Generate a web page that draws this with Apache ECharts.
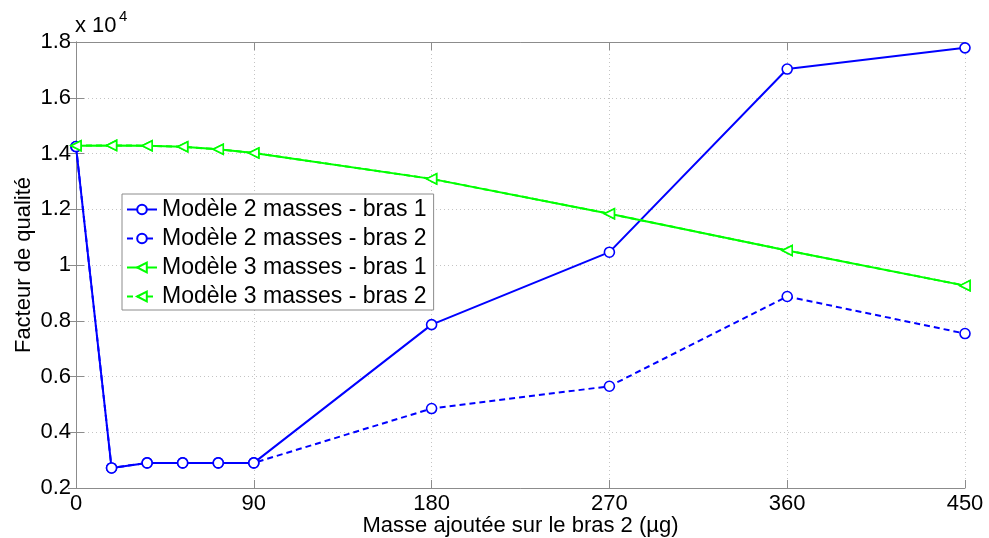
<!DOCTYPE html>
<html>
<head>
<meta charset="utf-8">
<script src="https://cdn.jsdelivr.net/npm/echarts@6/dist/echarts.min.js"></script>
<style>
html,body{margin:0;padding:0;background:#fff;}
#chart{width:989px;height:538px;}
</style>
</head>
<body>
<div id="chart"></div>
<script>
// Added mass on arm 2 (µg)
var xValues = [0, 18, 36, 54, 72, 90, 180, 270, 360, 450];
// Quality factor, in units of 10^4
var m2Bras1 = [1.425, 0.272, 0.290, 0.290, 0.290, 0.290, 0.786, 1.046, 1.703, 1.779];
var m2Bras2 = [1.425, 0.272, 0.290, 0.290, 0.290, 0.290, 0.485, 0.565, 0.887, 0.754];
var m3Bras1 = [1.428, 1.429, 1.428, 1.424, 1.415, 1.402, 1.309, 1.184, 1.052, 0.926];
var m3Bras2 = [1.428, 1.429, 1.428, 1.424, 1.415, 1.402, 1.309, 1.184, 1.052, 0.926];
var seriesNames = ['Modèle 2 masses - bras 1', 'Modèle 2 masses - bras 2', 'Modèle 3 masses - bras 1', 'Modèle 3 masses - bras 2'];
var xTicks = [0, 90, 180, 270, 360, 450];
var yTicks = [0.2, 0.4, 0.6, 0.8, 1.0, 1.2, 1.4, 1.6, 1.8];

function pairs(ys){ return xValues.map(function(x,i){ return [x, ys[i]]; }); }

var FONT = 'Liberation Sans, Arial, Helvetica, sans-serif';
var BLUE = '#0000ff', GREEN = '#00ff00', FRAME = '#8c8c8c';
var TRI_LEFT = 'path://M0,5 L10,0 L10,10 Z';

function mkSeries(name, ys, color, dashed, symbol) {
  return {
    name: name, type: 'line', data: pairs(ys),
    symbol: symbol, symbolSize: 10, showSymbol: true,
    itemStyle: { color: '#ffffff', borderColor: color, borderWidth: 1.6 },
    lineStyle: { color: color, width: 2, type: dashed ? [6, 4] : 'solid' },
    emphasis: { disabled: true },
    animation: false, z: 3
  };
}

var chart = echarts.init(document.getElementById('chart'), null, { renderer: 'canvas' });
var option = {
  animation: false,
  backgroundColor: '#ffffff',
  textStyle: { fontFamily: FONT },
  grid: { left: 76, right: 24, top: 42, bottom: 50, containLabel: false, outerBoundsMode: 'none' },
  xAxis: [{
    type: 'value', min: xTicks[0], max: xTicks[xTicks.length - 1], interval: 90,
    position: 'bottom',
    name: 'Masse ajoutée sur le bras 2 (µg)', nameLocation: 'middle', nameGap: 27,
    nameMoveOverlap: false,
    nameTextStyle: { fontFamily: FONT, fontSize: 22, color: '#000' },
    axisLine: { show: true, lineStyle: { color: FRAME, width: 1 } },
    axisTick: { show: true, inside: true, length: 8, lineStyle: { color: FRAME } },
    axisLabel: { fontFamily: FONT, fontSize: 22, color: '#000', margin: 5 },
    splitLine: { show: true, lineStyle: { color: '#c4c4c4', type: [1, 3], width: 1 } }
  }, {
    type: 'value', min: xTicks[0], max: xTicks[xTicks.length - 1], interval: 90,
    position: 'top',
    axisLine: { show: true, lineStyle: { color: FRAME, width: 1 } },
    axisTick: { show: true, inside: true, length: 8, lineStyle: { color: FRAME } },
    axisLabel: { show: false }, splitLine: { show: false }
  }],
  yAxis: [{
    type: 'value', min: yTicks[0], max: yTicks[yTicks.length - 1], interval: 0.2,
    position: 'left',
    name: 'Facteur de qualité', nameLocation: 'middle', nameGap: 41, nameRotate: 90,
    nameMoveOverlap: false,
    nameTextStyle: { fontFamily: FONT, fontSize: 22, color: '#000' },
    axisLine: { show: true, lineStyle: { color: FRAME, width: 1 } },
    axisTick: { show: true, inside: true, length: 8, lineStyle: { color: FRAME } },
    axisLabel: { fontFamily: FONT, fontSize: 22, color: '#000', margin: 5,
      formatter: function (v) { return String(Math.round(v * 10) / 10); } },
    splitLine: { show: true, lineStyle: { color: '#c4c4c4', type: [1, 3], width: 1 } }
  }, {
    type: 'value', min: yTicks[0], max: yTicks[yTicks.length - 1], interval: 0.2,
    position: 'right',
    axisLine: { show: true, lineStyle: { color: FRAME, width: 1 } },
    axisTick: { show: true, inside: true, length: 8, lineStyle: { color: FRAME } },
    axisLabel: { show: false }, splitLine: { show: false }
  }],
  legend: {
    orient: 'vertical', left: 122, top: 194,
    data: seriesNames,
    backgroundColor: '#ffffff', borderColor: '#8c8c8c', borderWidth: 1,
    padding: [4, 7, 2, 4],
    itemWidth: 30, itemHeight: 12, itemGap: 6,
    textStyle: { fontFamily: FONT, fontSize: 23, lineHeight: 22, color: '#000' },
    selectedMode: false
  },
  graphic: [
    { type: 'text', left: 75, top: 15, style: { text: 'x 10', font: '22px ' + FONT, fill: '#000' } },
    { type: 'text', left: 119, top: 9, style: { text: '4', font: '15px ' + FONT, fill: '#000' } }
  ],
  series: [
    mkSeries(seriesNames[0], m2Bras1, BLUE, false, 'circle'),
    mkSeries(seriesNames[1], m2Bras2, BLUE, true, 'circle'),
    mkSeries(seriesNames[2], m3Bras1, GREEN, false, TRI_LEFT),
    mkSeries(seriesNames[3], m3Bras2, GREEN, true, TRI_LEFT)
  ]
};
chart.setOption(option);
</script>
</body>
</html>
